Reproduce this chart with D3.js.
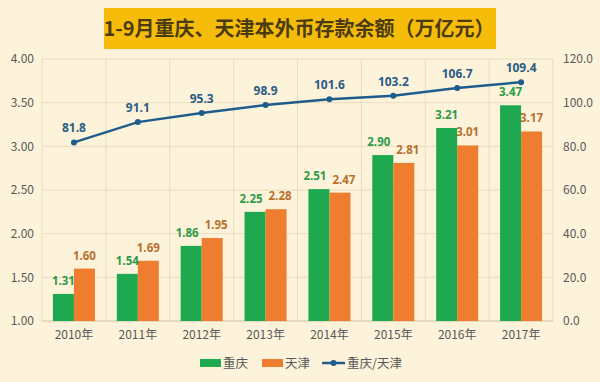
<!DOCTYPE html>
<html><head><meta charset="utf-8">
<script src="https://cdn.jsdelivr.net/npm/d3@7"></script>
<style>
body{margin:0;background:#fcf3da;}
svg{display:block;font-family:"Noto Sans CJK SC","Noto Sans",sans-serif;}
</style></head>
<body>
<script>
const categories = ["2010年","2011年","2012年","2013年","2014年","2015年","2016年","2017年"];
const chongqing = [1.31,1.54,1.86,2.25,2.51,2.90,3.21,3.47];
const tianjin = [1.60,1.69,1.95,2.28,2.47,2.81,3.01,3.17];
const ratio = [81.8,91.1,95.3,98.9,101.6,103.2,106.7,109.4];
const leftTicks = [1.00,1.50,2.00,2.50,3.00,3.50,4.00];
const rightTicks = [0,20,40,60,80,100,120];
const title = "1-9月重庆、天津本外币存款余额（万亿元）";
const legendNames = ["重庆","天津","重庆/天津"];

const W=600,H=382;
const svg=d3.select("body").append("svg").attr("width",W).attr("height",H);
svg.append("rect").attr("width",W).attr("height",H).attr("fill","#fcf3da");

const m={l:42,r:553,t:59,b:321};
const x=d3.scaleBand().domain(categories).range([m.l,m.r]);
const yL=d3.scaleLinear().domain([1,4]).range([m.b,m.t]);
const yR=d3.scaleLinear().domain([0,120]).range([m.b,m.t]);

// title
svg.append("rect").attr("x",104).attr("y",8).attr("width",392).attr("height",41).attr("fill","#f5bd0a");
svg.append("text").attr("x",299).attr("y",36).attr("text-anchor","middle")
  .attr("font-size",20).attr("font-weight","bold").attr("fill","#4b3b12").text(title);

// grid
const g=svg.append("g");
g.selectAll("line.h").data(leftTicks).join("line")
  .attr("x1",m.l).attr("x2",m.r).attr("y1",d=>yL(d)).attr("y2",d=>yL(d))
  .attr("stroke","#e8dcc0").attr("stroke-width",1);
const bounds=categories.map(c=>x(c)).concat([m.r]);
g.selectAll("line.v").data(bounds).join("line")
  .attr("x1",d=>d).attr("x2",d=>d).attr("y1",m.t).attr("y2",m.b)
  .attr("stroke","#e8dcc0").attr("stroke-width",1);

// axes
const axL=svg.append("g").attr("transform",`translate(${m.l},0)`)
  .call(d3.axisLeft(yL).tickValues(leftTicks).tickFormat(d3.format(".2f")).tickSize(0).tickPadding(8));
const axR=svg.append("g").attr("transform",`translate(${m.r},0)`)
  .call(d3.axisRight(yR).tickValues(rightTicks).tickFormat(d3.format(".1f")).tickSize(0).tickPadding(10));
const axB=svg.append("g").attr("transform",`translate(0,${m.b})`)
  .call(d3.axisBottom(x).tickSize(0).tickPadding(9));
[axL,axR,axB].forEach(a=>{a.select(".domain").remove();
  a.selectAll("text").attr("font-size",12).attr("fill","#595959").attr("font-family","'Noto Sans CJK SC','Open Sans',sans-serif");});
svg.append("line").attr("x1",m.l).attr("x2",m.r).attr("y1",m.b).attr("y2",m.b).attr("stroke","#d9ccb0");

// bars
const inner=d3.scaleBand().domain([0,1]).range([0,x.bandwidth()]).paddingOuter(0.52).paddingInner(0);
const cols=["#1ea84f","#ee7d2f"];
const labCols=["#2f9a4a","#b8702e"];
const series=[chongqing,tianjin];
series.forEach((s,k)=>{
  svg.append("g").selectAll("rect").data(s).join("rect")
    .attr("x",(d,i)=>x(categories[i])+inner(k)).attr("width",inner.bandwidth())
    .attr("y",d=>yL(d)).attr("height",d=>m.b-yL(d)).attr("fill",cols[k]);
});
// labels with simple collision nudge
const lw=24;
categories.forEach((c,i)=>{
  let p=[0,1].map(k=>({x:x(c)+inner(k)+inner.bandwidth()/2,y:yL(series[k][i])-9,v:series[k][i],k}));
  if(Math.abs(p[0].y-p[1].y)<13){
    const gap=p[1].x-p[0].x, need=lw+5;
    if(gap<need){p[0].x-=(need-gap)/2;p[1].x+=(need-gap)/2;}
  }
  p.forEach(q=>svg.append("text").attr("x",q.x).attr("y",q.y).attr("text-anchor","middle")
    .attr("font-size",11.5).attr("font-weight","bold").attr("fill",labCols[q.k])
    .attr("font-family","'Open Sans',sans-serif").text(q.v.toFixed(2)));
});

// line
const cx=(d,i)=>x(categories[i])+x.bandwidth()/2;
svg.append("path").datum(ratio).attr("fill","none").attr("stroke","#1f5c8c").attr("stroke-width",2.5)
  .attr("d",d3.line().x(cx).y(d=>yR(d)));
svg.append("g").selectAll("circle").data(ratio).join("circle")
  .attr("cx",cx).attr("cy",d=>yR(d)).attr("r",3).attr("fill","#1f5c8c");
svg.append("g").selectAll("text").data(ratio).join("text")
  .attr("x",cx).attr("y",d=>yR(d)-10).attr("text-anchor","middle")
  .attr("font-size",12).attr("font-weight","bold").attr("fill","#2a5c86")
  .attr("font-family","'Open Sans',sans-serif").text(d=>d.toFixed(1));

// legend
const lg=svg.append("g").attr("font-size",12.5).attr("fill","#595959");
const ly=363;
lg.append("rect").attr("x",200).attr("y",ly-4).attr("width",21).attr("height",8).attr("fill",cols[0]);
lg.append("text").attr("x",223).attr("y",ly+5).text(legendNames[0]);
lg.append("rect").attr("x",262).attr("y",ly-4).attr("width",21).attr("height",8).attr("fill",cols[1]);
lg.append("text").attr("x",285).attr("y",ly+5).text(legendNames[1]);
lg.append("line").attr("x1",322).attr("x2",345).attr("y1",ly).attr("y2",ly).attr("stroke","#1f5c8c").attr("stroke-width",2.5);
lg.append("circle").attr("cx",333.5).attr("cy",ly).attr("r",3).attr("fill","#1f5c8c");
lg.append("text").attr("x",347).attr("y",ly+5).text(legendNames[2]);
</script>
</body></html>
